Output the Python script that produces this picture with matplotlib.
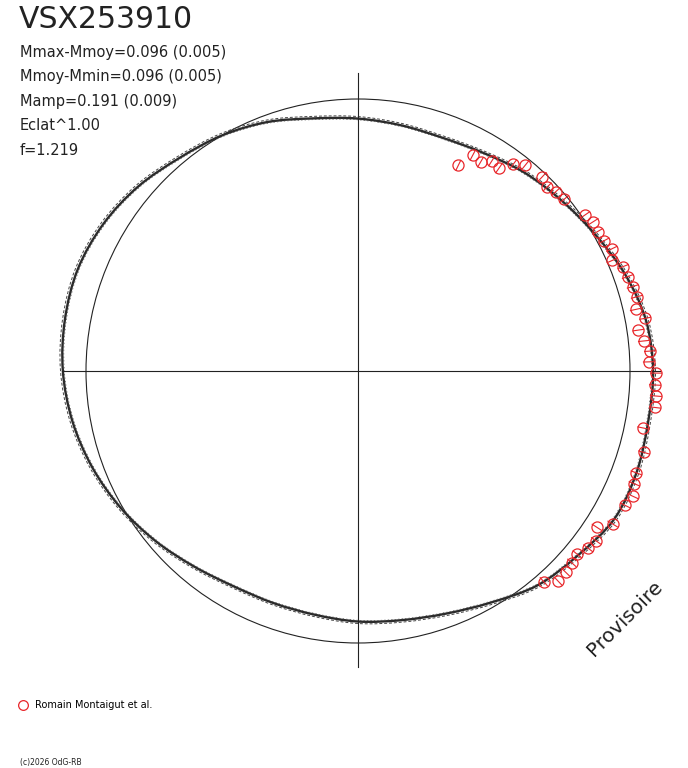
import numpy as np
import matplotlib
matplotlib.use("Agg")
import matplotlib.pyplot as plt
from matplotlib.patches import Circle, PathPatch
from matplotlib.path import Path
from matplotlib.collections import LineCollection
from matplotlib.lines import Line2D

# ---------------- data ----------------
title = "VSX253910"
info_lines = [
    "Mmax-Mmoy=0.096 (0.005)",
    "Mmoy-Mmin=0.096 (0.005)",
    "Mamp=0.191 (0.009)",
    "Eclat^1.00",
    "f=1.219",
]
legend_label = "Romain Montaigut et al."
copyright_text = "(c)2026 OdG-RB"
watermark = "Provisoire"

# model light curve in polar form: angle (deg) and radius (reference circle = 1)
curve_angle = [0, 10, 20, 30, 40, 50, 60, 70, 80, 90, 100, 110,
               120, 130, 140, 150, 160, 170, 180, 190, 200, 210, 220, 230,
               240, 250, 260, 270, 280, 290, 300, 310, 320, 330, 340, 350]
curve_r = [1.085, 1.075, 1.044, 1.006, 0.976, 0.952, 0.925, 0.912, 0.917, 0.928, 0.943, 0.974,
           1.000, 1.022, 1.055, 1.081, 1.096, 1.094, 1.085, 1.066, 1.039, 1.007, 0.972, 0.938,
           0.914, 0.908, 0.910, 0.921, 0.930, 0.949, 0.982, 1.028, 1.055, 1.088, 1.090, 1.083]

# observations: angle (deg) and radius
obs_angle = [64.0, 62.0, 59.6, 57.5, 55.2, 53.1, 50.9, 46.5, 44.2, 42.2, 39.8,
             34.5, 32.4, 30.2, 27.9, 25.7, 23.5, 21.5, 19.3, 17.1, 14.9,
             12.5, 10.4, 8.3, 6.0, 3.9, 1.8, -0.4, -2.7, -4.8, -7.0,
             -11.3, -15.9, -20.1, -22.2, -24.5, -26.7, -31.0, -33.2, -35.5,
             -37.6, -39.9, -41.9, -44.1, -46.4, -48.6]
obs_r = [0.842, 0.899, 0.890, 0.915, 0.908, 0.950, 0.976, 0.985, 0.971, 0.982, 0.988,
         1.013, 1.025, 1.019, 1.024, 1.035, 1.019, 1.048, 1.050, 1.056, 1.060,
         1.046, 1.073, 1.042, 1.057, 1.076, 1.070, 1.096, 1.093, 1.099, 1.100,
         1.069, 1.093, 1.089, 1.097, 1.110, 1.100, 1.092, 1.049, 1.075,
         1.068, 1.051, 1.056, 1.063, 1.067, 1.033]
obs_err = 0.022

# ---------------- layout ----------------
W, H = 688, 768
CX, CY = 358, 371      # pixel position of the polar origin
R = 272                # pixel radius of the reference circle
RED = "#e8262a"
INK = "#222222"

fig = plt.figure(figsize=(W / 100, H / 100), dpi=100)
ax = fig.add_axes([0, 0, 1, 1])
ax.set_xlim(-CX / R, (W - CX) / R)
ax.set_ylim(-(H - CY) / R, CY / R)
ax.set_aspect("equal")
ax.axis("off")


def fpos(x, y):
    return x / W, 1 - y / H


def smooth_closed_path(x, y, scale=1.0):
    """Closed Catmull-Rom style Bezier path through the given vertices."""
    p = np.column_stack([x, y]) * scale
    n = len(p)
    verts = [p[0]]
    codes = [Path.MOVETO]
    for i in range(n):
        p0, p1, p2, p3 = p[i - 1], p[i], p[(i + 1) % n], p[(i + 2) % n]
        c1 = p1 + (p2 - p0) / 6.0
        c2 = p2 - (p3 - p1) / 6.0
        verts += [c1, c2, p2]
        codes += [Path.CURVE4] * 3
    return Path(verts, codes)


# axes cross
ax.plot([-1.09, 1.11], [0, 0], color=INK, lw=0.8)
ax.plot([0, 0], [-1.09, 1.095], color=INK, lw=0.8)

# reference circle
ax.add_patch(Circle((0, 0), 1.0, fill=False, ec=INK, lw=0.8))

# model curve (smoothed line through the read values)
ca = np.deg2rad(np.array(curve_angle))
cr = np.array(curve_r)
cx, cy = cr * np.cos(ca), cr * np.sin(ca)
ax.add_patch(PathPatch(smooth_closed_path(cx, cy), fill=False, ec="#2b2b2b", lw=1.7))
ax.add_patch(PathPatch(smooth_closed_path(cx, cy, 1.008), fill=False, ec="#444444",
                       lw=0.7, ls=(0, (3, 2))))
ax.add_patch(PathPatch(smooth_closed_path(cx, cy, 0.995), fill=False, ec="#555555",
                       lw=0.5, ls=(0, (2, 3))))

# observations with radial error bars
oa = np.deg2rad(np.array(obs_angle))
orr = np.array(obs_r)
ox, oy = orr * np.cos(oa), orr * np.sin(oa)
segs = [[((r - obs_err) * np.cos(a), (r - obs_err) * np.sin(a)),
         ((r + obs_err) * np.cos(a), (r + obs_err) * np.sin(a))] for a, r in zip(oa, orr)]
ax.add_collection(LineCollection(segs, colors=RED, linewidths=0.8))
ax.plot(ox, oy, "o", ms=8, mfc="none", mec=RED, mew=0.9)

# texts
fig.text(*fpos(19, 28.5), title, fontsize=21.5, family="DejaVu Sans", color=INK, va="baseline")
for i, line in enumerate(info_lines):
    fig.text(*fpos(20, 56.7 + 24.6 * i), line, fontsize=10.5, family="DejaVu Sans",
             color=INK, va="baseline")

fig.text(*fpos(625, 618), watermark, fontsize=14.5, family="DejaVu Sans", color=INK,
         rotation=45, ha="center", va="center", rotation_mode="anchor")

handle = Line2D([], [], marker="o", ls="none", mfc="none", mec=RED, ms=7, mew=0.9)
fig.legend(handles=[handle], labels=[legend_label], loc="center left",
           bbox_to_anchor=fpos(17.8, 705), frameon=False,
           handlelength=1.0, handletextpad=0.75, borderpad=0, borderaxespad=0,
           prop={"family": "DejaVu Sans", "size": 7})

fig.text(*fpos(20, 762.5), copyright_text, fontsize=5.5, family="DejaVu Sans",
         color=INK, va="center")

fig.savefig("out.png", dpi=100, facecolor="white")
